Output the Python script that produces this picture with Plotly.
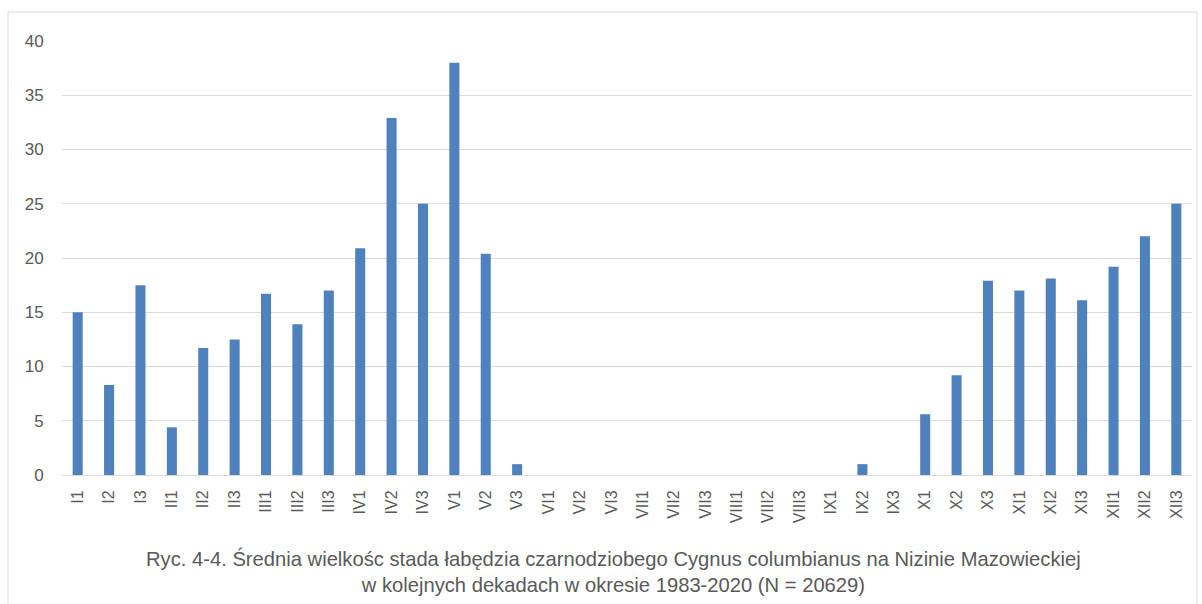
import plotly.graph_objects as go

categories = ["I1", "I2", "I3", "II1", "II2", "II3", "III1", "III2", "III3",
              "IV1", "IV2", "IV3", "V1", "V2", "V3", "VI1", "VI2", "VI3",
              "VII1", "VII2", "VII3", "VIII1", "VIII2", "VIII3", "IX1", "IX2", "IX3",
              "X1", "X2", "X3", "XI1", "XI2", "XI3", "XII1", "XII2", "XII3"]
values = [15.0, 8.3, 17.5, 4.4, 11.7, 12.5, 16.7, 13.9, 17.0,
          20.9, 32.9, 25.0, 38.0, 20.4, 1.0, 0, 0, 0,
          0, 0, 0, 0, 0, 0, 0, 1.0, 0,
          5.6, 9.2, 17.9, 17.0, 18.1, 16.1, 19.2, 22.0, 25.0]
y_ticks = [0, 5, 10, 15, 20, 25, 30, 35, 40]
caption = ("Ryc. 4-4. Średnia wielkośc stada łabędzia czarnodziobego Cygnus columbianus na Nizinie Mazowieckiej"
           "<br>w kolejnych dekadach w okresie 1983-2020 (N = 20629)")

W, H = 1202, 604
L, R, T, B = 62, 10, 41, 129
pw, ph = W - L - R, H - T - B
y0_px = H - B  # pixel row of the plot bottom


def py(px):
    return (y0_px - px) / ph


def px_x(px):
    return (px - L) / pw


fig = go.Figure(go.Bar(x=categories, y=values, marker_color="#4F81BD",
                       marker_line_width=0))

font_family = "Liberation Sans, Arial, sans-serif"

fig.update_layout(
    width=W, height=H,
    margin=dict(l=L, r=R, t=T, b=B),
    paper_bgcolor="white", plot_bgcolor="white",
    bargap=0.68,
    showlegend=False,
    font=dict(family=font_family, color="#595959", size=16),
    xaxis=dict(type="category", tickangle=-90, showgrid=False,
               ticks="outside", ticklen=8, tickcolor="rgba(0,0,0,0)",
               tickfont=dict(size=16, color="#595959"),
               showline=False, zeroline=False, automargin=False),
    yaxis=dict(range=[0, 40], tickvals=y_ticks, showgrid=True,
               gridcolor="#D9D9D9", gridwidth=1,
               ticks="outside", ticklen=14, tickcolor="rgba(0,0,0,0)",
               tickfont=dict(size=17, color="#595959"),
               zeroline=True, zerolinecolor="#D9D9D9", zerolinewidth=1,
               showline=False, automargin=False),
    shapes=[dict(type="rect", xref="paper", yref="paper",
                 x0=px_x(8), x1=px_x(1197),
                 y0=py(640), y1=py(12),
                 line=dict(color="#D9D9D9", width=1), fillcolor="rgba(0,0,0,0)",
                 layer="below")],
    annotations=[dict(text=caption, xref="paper", yref="paper",
                      x=px_x(613), y=py(571),
                      xanchor="center", yanchor="middle", showarrow=False,
                      align="center",
                      font=dict(size=20.2, color="#595959", family=font_family))],
)

fig.write_html("out.html", config={"displayModeBar": False},
               post_script="document.body.style.margin='0';document.body.style.overflow='hidden';")
